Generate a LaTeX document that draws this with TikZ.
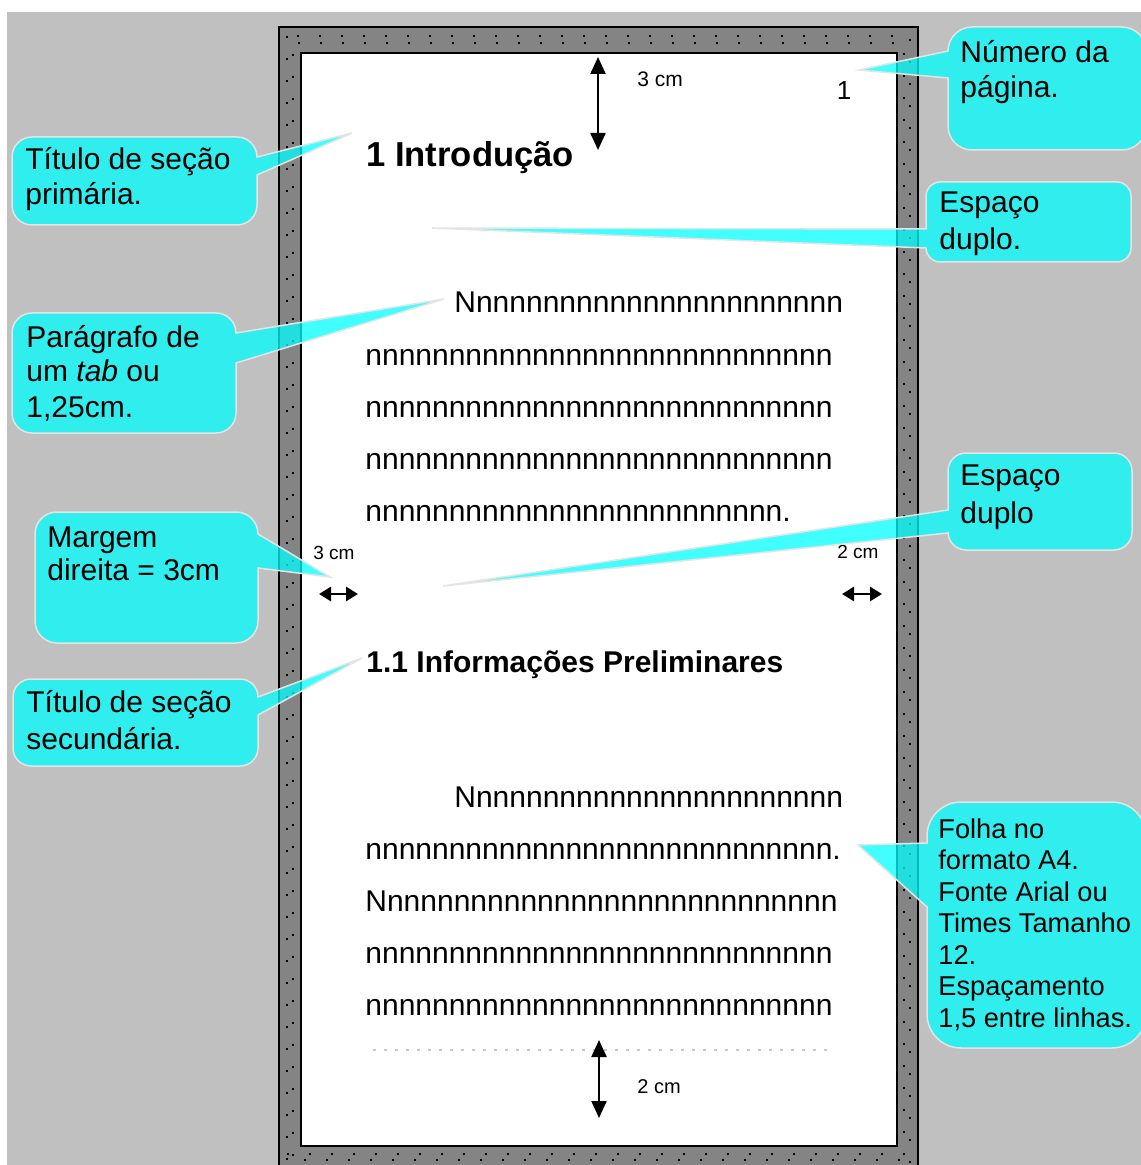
\documentclass[tikz,border=0pt]{standalone}
\usepackage{fontspec}
\setmainfont{Liberation Sans}
\usetikzlibrary{arrows.meta}
\definecolor{bggray}{RGB}{192,192,192}
\definecolor{framegray}{RGB}{132,132,132}
\definecolor{callcyan}{RGB}{0,255,255}
\definecolor{callborder}{RGB}{228,228,228}
\definecolor{dotgray}{RGB}{200,200,200}
\newcommand\myN[1]{\foreach\i in {1,...,#1}{n}}
% callout with pointer on the right side
\newcommand\calloutRR[9]{%
  \path[callout] ({#1+#5},#2) -- ({#3-#5},#2) arc[start angle=270,end angle=360,radius=#5]
    -- (#3,#6) -- (#8,#9) -- (#3,#7)
    -- (#3,{#4-#5}) arc[start angle=0,end angle=90,radius=#5]
    -- ({#1+#5},#4) arc[start angle=90,end angle=180,radius=#5]
    -- (#1,{#2+#5}) arc[start angle=180,end angle=270,radius=#5] -- cycle;}
% callout with pointer on the left side
\newcommand\calloutLL[9]{%
  \path[callout] ({#1+#5},#2) -- ({#3-#5},#2) arc[start angle=270,end angle=360,radius=#5]
    -- (#3,{#4-#5}) arc[start angle=0,end angle=90,radius=#5]
    -- ({#1+#5},#4) arc[start angle=90,end angle=180,radius=#5]
    -- (#1,#7) -- (#8,#9) -- (#1,#6)
    -- (#1,{#2+#5}) arc[start angle=180,end angle=270,radius=#5] -- cycle;}
\begin{document}
\begin{tikzpicture}[x=0.5pt,y=-0.5pt,
  callout/.style={fill=callcyan,fill opacity=0.74,draw=callborder,line width=0.75pt},
  ctext/.style={anchor=base west,inner sep=0pt,font=\fontsize{15}{17}\selectfont},
  ftext/.style={anchor=base west,inner sep=0pt,font=\fontsize{13.6}{15.7}\selectfont},
  body/.style={anchor=base west,inner sep=0pt,font=\fontsize{15}{15}\selectfont},
  headA/.style={anchor=base west,inner sep=0pt,font=\fontsize{17.3}{17.3}\selectfont\bfseries},
  headB/.style={anchor=base west,inner sep=0pt,font=\fontsize{15}{15}\selectfont\bfseries},
  dimlabel/.style={anchor=base west,inner sep=0pt,font=\fontsize{10.5}{10.5}\selectfont},
  sidelabel/.style={anchor=base west,inner sep=0pt,font=\fontsize{9.5}{9.5}\selectfont},
  dimarrowV/.style={line width=1.1pt,{Triangle[width=7.5pt,length=8.5pt]}-{Triangle[width=7.5pt,length=8.5pt]}},
  dimarrowH/.style={line width=1.4pt,{Triangle[width=7pt,length=6pt]}-{Triangle[width=7pt,length=6pt]}},
  framedots/.style={line width=1pt,black,dash pattern=on 1pt off 10pt}
]
\useasboundingbox (0,0) rectangle (1140,1165);
% background
\fill[white] (0,0) rectangle (1140,1165);
\fill[bggray] (7,12) rectangle (1145,1170);
% page frame
\fill[framegray,draw=black,line width=1pt] (279,27) rectangle (918,1190);
\draw[framedots] (287,36) rectangle (910,1190);
\draw[framedots,dash phase=5.5pt] (293,43) rectangle (904,1190);
\draw[framedots] (287,1154) -- (910,1154);
\draw[framedots,dash phase=5.5pt] (293,1160) -- (904,1160);
\fill[white,draw=black,line width=1.25pt] (301,53) rectangle (897,1146);

% dotted bottom margin line
\draw[dotgray,line width=0.6pt,dash pattern=on 1.5pt off 4pt] (373,1050) -- (828,1050);

% page content
\node[dimlabel] (top3) at (637,87) {3 cm};
\node[anchor=base,inner sep=0pt,font=\fontsize{13}{13}\selectfont] (pgnum) at (844,100) {1};
\node[headA] (h1) at (366,167) {1 Introdução};
\node[body] (p1a) at (454,313) {N\myN{22}};
\node[body] (p1b) at (365,365) {\myN{28}};
\node[body] (p1c) at (365,417) {\myN{28}};
\node[body] (p1d) at (365,469) {\myN{28}};
\node[body] (p1e) at (365,521) {\myN{25}.};
\node[sidelabel] (left3) at (313,559) {3 cm};
\node[sidelabel] (right2) at (837,558) {2 cm};
\node[headB] (h2) at (366,672) {1.1 Informações Preliminares};
\node[body] (p2a) at (454,807) {N\myN{22}};
\node[body] (p2b) at (365,859) {\myN{28}.};
\node[body] (p2c) at (365,911) {N\myN{27}};
\node[body] (p2d) at (365,963) {\myN{28}};
\node[body] (p2e) at (365,1015) {\myN{28}};
\node[dimlabel,font=\fontsize{10}{10}\selectfont] (bot2) at (637,1093) {2 cm};

% dimension arrows
\coordinate (tA) at (598,57);
\coordinate (tB) at (598,150);
\coordinate (bA) at (599,1040);
\coordinate (bB) at (599,1118);
\coordinate (lA) at (319,594);
\coordinate (lB) at (358,594);
\coordinate (rA) at (842,594);
\coordinate (rB) at (882,594);
\draw[dimarrowV] (tA) -- (tB);
\draw[dimarrowV] (bA) -- (bB);
\draw[dimarrowH] (lA) -- (lB);
\draw[dimarrowH] (rA) -- (rB);

% callouts
\calloutRR{12}{137}{257}{225}{20}{157}{175}{352}{133}
\node[ctext] (c1a) at (25,170) {Título de seção};
\node[ctext] (c1b) at (25,205) {primária.};

\calloutLL{948}{27}{1146}{150}{24}{51}{78}{859}{70}
\node[ctext] (c2a) at (960,63) {Número da};
\node[ctext] (c2b) at (960,98) {página.};

\calloutLL{926}{182}{1131}{262}{14}{229}{248}{432}{228}
\node[ctext] (c3a) at (939,213) {Espaço};
\node[ctext] (c3b) at (939,250) {duplo.};

\calloutRR{12}{313}{236}{433}{20}{333}{363}{444}{299}
\node[ctext] (c4a) at (26,348) {Parágrafo de};
\node[ctext] (c4b) at (26,382) {um \textit{tab} ou};
\node[ctext] (c4c) at (26,417) {1,25cm.};

\calloutRR{35}{512}{258}{643}{22}{534}{568}{330}{577}
\node[ctext] (c5a) at (47,547) {Margem};
\node[ctext] (c5b) at (47,580) {direita = 3cm};

\calloutRR{13}{679}{258}{766}{18}{697}{715}{362}{658}
\node[ctext] (c6a) at (26,712) {Título de seção};
\node[ctext] (c6b) at (26,749) {secundária.};

\calloutLL{948}{453}{1132}{550}{18}{510}{533}{443}{586}
\node[ctext] (c7a) at (960,485) {Espaço};
\node[ctext] (c7b) at (960,523) {duplo};

\calloutLL{927}{802}{1146}{1048}{34}{843}{907}{858}{845}
\node[ftext] (c8a) at (938,838) {Folha no};
\node[ftext] (c8b) at (938,869.5) {formato A4.};
\node[ftext] (c8c) at (938,901) {Fonte Arial ou};
\node[ftext] (c8d) at (938,932.5) {Times Tamanho};
\node[ftext] (c8e) at (938,964) {12.};
\node[ftext] (c8f) at (938,995.5) {Espaçamento};
\node[ftext] (c8g) at (938,1027) {1,5 entre linhas.};
\end{tikzpicture}
\end{document}
